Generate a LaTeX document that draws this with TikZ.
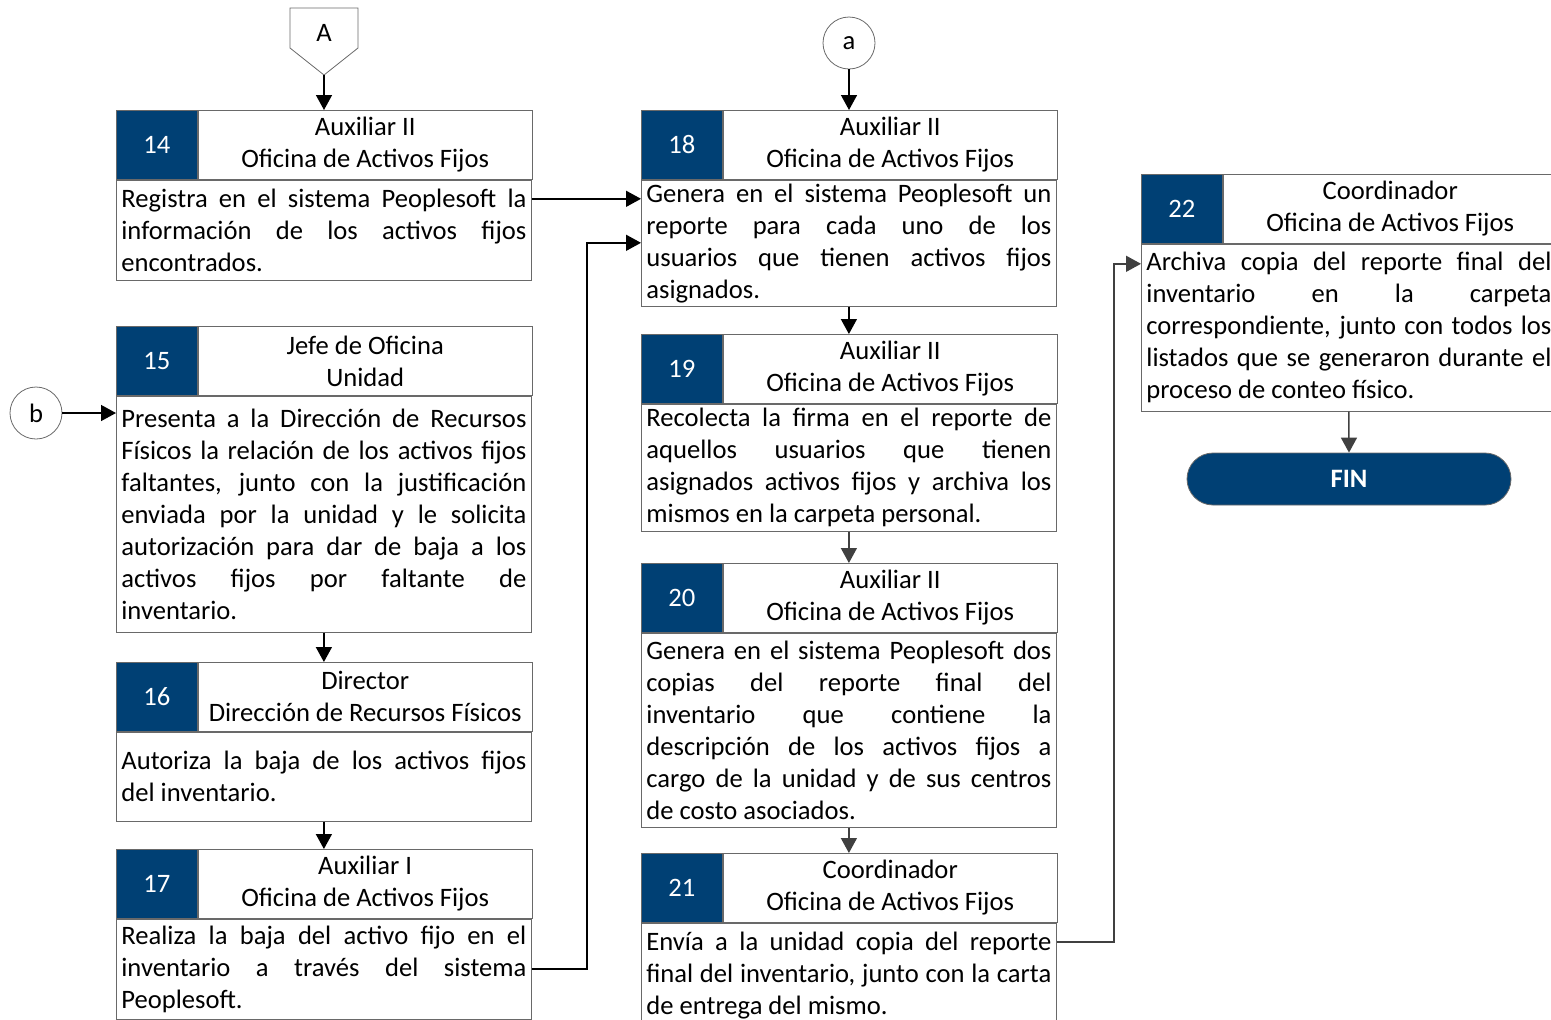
\documentclass[tikz,border=0pt]{standalone}
\usepackage{fontspec}
\setmainfont{Carlito}
\usepackage{tikz}
\usetikzlibrary{arrows.meta}
\definecolor{azul}{RGB}{0,64,116}
\definecolor{borde}{RGB}{105,105,105}
\definecolor{flecha}{RGB}{64,64,64}
\hyphenpenalty=10000
\exhyphenpenalty=10000

\begin{document}
\begin{tikzpicture}[x=0.5pt, y=-0.5pt, font=\fontsize{13.3}{16}\selectfont]
    \tikzstyle{numcell} = [rectangle, draw=borde, fill=azul, text=white, inner sep=0pt, minimum width=40.5pt, minimum height=34.5pt, anchor=north west]
    \tikzstyle{headcell} = [rectangle, draw=borde, align=center, inner sep=0pt, minimum width=167pt, minimum height=34.5pt, anchor=north west]
    \tikzstyle{bodycell} = [rectangle, draw=borde, align=justify, text width=202.5pt, inner xsep=2.5pt, inner ysep=0pt, anchor=north west]
    \tikzstyle{conector} = [circle, draw=borde, inner sep=0pt, minimum size=26pt]
    \tikzstyle{fin} = [rectangle, rounded corners=13pt, draw=borde, fill=azul, text=white, font=\fontsize{13.3}{16}\selectfont\bfseries, minimum width=162pt, minimum height=26pt]
    \tikzstyle{flechan} = [black, line width=0.75pt, -{Triangle[length=7.5pt, width=8pt]}]
    \tikzstyle{flechag} = [flecha, line width=0.75pt, -{Triangle[length=7.5pt, width=8pt]}]

    \useasboundingbox (0,0) rectangle (1551,1019);

    % Conectores
    \draw[borde] (290,8) -- (358,8) -- (358,48) -- (324,75) -- (290,48) -- cycle;
    \node (conA) at (324,33) {A};
    \coordinate (puntaA) at (324,75);
    \node[conector] (cona) at (849,43) {a};
    \node[conector] (conb) at (36,413) {b};

    % Columna 1
    \node[numcell] (num14) at (116,110) {14};
    \node[headcell] (head14) at (num14.north east) {Auxiliar II\\Oficina de Activos Fijos};
    \node[bodycell, minimum height=50pt] (body14) at (num14.south west) {Registra en el sistema Peoplesoft la\linebreak información de los activos fijos\linebreak encontrados.};

    \node[numcell] (num15) at (116,326) {15};
    \node[headcell] (head15) at (num15.north east) {Jefe de Oficina\\Unidad};
    \node[bodycell, minimum height=118pt] (body15) at (num15.south west) {Presenta a la Dirección de Recursos\linebreak Físicos la relación de los activos fijos\linebreak faltantes, junto con la justificación\linebreak enviada por la unidad y le solicita\linebreak autorización para dar de baja a los\linebreak activos fijos por faltante de\linebreak inventario.};

    \node[numcell] (num16) at (116,662) {16};
    \node[headcell] (head16) at (num16.north east) {Director\\Dirección de Recursos Físicos};
    \node[bodycell, minimum height=44.5pt] (body16) at (num16.south west) {Autoriza la baja de los activos fijos\linebreak del inventario.};

    \node[numcell] (num17) at (116,849) {17};
    \node[headcell] (head17) at (num17.north east) {Auxiliar I\\Oficina de Activos Fijos};
    \node[bodycell, minimum height=50pt] (body17) at (num17.south west) {Realiza la baja del activo fijo en el\linebreak inventario a través del sistema\linebreak Peoplesoft.};

    % Columna 2
    \node[numcell] (num18) at (641,110) {18};
    \node[headcell] (head18) at (num18.north east) {Auxiliar II\\Oficina de Activos Fijos};
    \node[bodycell, minimum height=63pt] (body18) at (num18.south west) {Genera en el sistema Peoplesoft un\linebreak reporte para cada uno de los\linebreak usuarios que tienen activos fijos\linebreak asignados.};

    \node[numcell] (num19) at (641,334) {19};
    \node[headcell] (head19) at (num19.north east) {Auxiliar II\\Oficina de Activos Fijos};
    \node[bodycell, minimum height=63.5pt] (body19) at (num19.south west) {Recolecta la firma en el reporte de\linebreak aquellos usuarios que tienen\linebreak asignados activos fijos y archiva los\linebreak mismos en la carpeta personal.};

    \node[numcell] (num20) at (641,563) {20};
    \node[headcell] (head20) at (num20.north east) {Auxiliar II\\Oficina de Activos Fijos};
    \node[bodycell, minimum height=97pt] (body20) at (num20.south west) {Genera en el sistema Peoplesoft dos\linebreak copias del reporte final del\linebreak inventario que contiene la\linebreak descripción de los activos fijos a\linebreak cargo de la unidad y de sus centros\linebreak de costo asociados.};

    \node[numcell] (num21) at (641,853) {21};
    \node[headcell] (head21) at (num21.north east) {Coordinador\\Oficina de Activos Fijos};
    \node[bodycell, minimum height=52pt] (body21) at (num21.south west) {Envía a la unidad copia del reporte\linebreak final del inventario, junto con la carta\linebreak de entrega del mismo.};

    % Columna 3
    \node[numcell] (num22) at (1141,174) {22};
    \node[headcell] (head22) at (num22.north east) {Coordinador\\Oficina de Activos Fijos};
    \node[bodycell, minimum height=83.5pt] (body22) at (num22.south west) {Archiva copia del reporte final del\linebreak inventario en la carpeta\linebreak correspondiente, junto con todos los\linebreak listados que se generaron durante el\linebreak proceso de conteo físico.};

    \node[fin] (fin) at (1349,479) {FIN};

    % Flechas
    \draw[flechan] (puntaA) -- (puntaA |- num14.north);
    \draw[flechan] (cona) -- (cona |- num18.north);
    \draw[flechan] (conb) -- (conb -| body15.west);
    \draw[flechan] ([yshift=-9.5pt]body14.north east) -- ([yshift=-9.5pt]body18.north west);
    \draw[flechan] (body15.south) -- (body15.south |- num16.north);
    \draw[flechan] (body16.south) -- (body16.south |- num17.north);
    \draw[flechan] (body17.east) -- ++(55,0) |- ([yshift=-31.5pt]body18.north west);
    \draw[flechan] (body18.south) -- (body18.south |- num19.north);
    \draw[flechag] (body19.south) -- (body19.south |- num20.north);
    \draw[flechag] (body20.south) -- (body20.south |- num21.north);
    \draw[flechag] ([yshift=-9.5pt]body21.north east) -- ++(57,0) |- ([yshift=-10pt]body22.north west);
    \draw[flechag] (body22.south) -- (fin.north);
\end{tikzpicture}
\end{document}
